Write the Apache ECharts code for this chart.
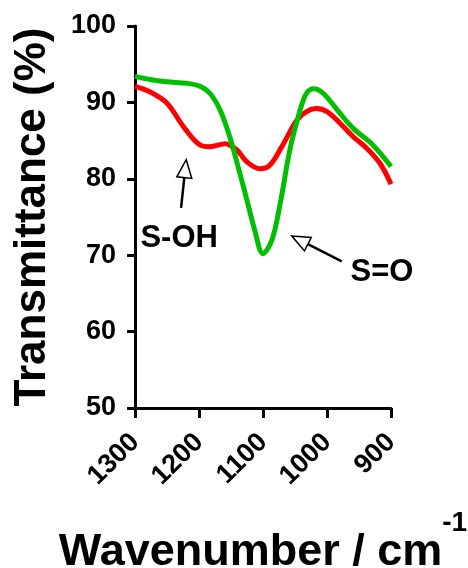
<!DOCTYPE html>
<html>
<head>
<meta charset="utf-8">
<script src="https://cdn.jsdelivr.net/npm/echarts@6/dist/echarts.min.js"></script>
<style>
  html, body { margin: 0; padding: 0; background: #fff; }
  #main { width: 468px; height: 568px; }
</style>
</head>
<body>
<div id="main"></div>
<script>
// 红线 (S-OH 样品)
const redX = [1300, 1277, 1250, 1224, 1198, 1183, 1159, 1141, 1125, 1105, 1089, 1068, 1047, 1032, 1017, 1000, 980, 959, 938, 917, 900];
const redY = [92.1, 91.4, 89.9, 86.8, 84.4, 84.2, 84.6, 83.8, 82.2, 81.3, 81.8, 84.6, 87.7, 88.8, 89.2, 88.8, 87.3, 85.5, 84.0, 82.0, 79.3];
// 绿线 (S=O 样品)
const greenX = [1300, 1277, 1250, 1219, 1198, 1183, 1167, 1152, 1139, 1126, 1113, 1100, 1086, 1073, 1058, 1042, 1032, 1021, 1006, 980, 959, 928, 900];
const greenY = [93.4, 93.0, 92.7, 92.5, 92.1, 91.2, 89.0, 85.5, 81.6, 77.5, 73.3, 70.2, 72.0, 76.8, 83.8, 89.0, 91.2, 91.8, 91.2, 88.6, 86.6, 84.4, 81.6];
const xTicks = [1300, 1200, 1100, 1000, 900];
const yTicks = [50, 60, 70, 80, 90, 100];

// 标注 (数据坐标)
const notes = [
    {text: 'S-OH', tip: [1220, 82.5], tail: [1228, 76.2], label: [1231, 70.1]},
    {text: 'S=O', tip: [1055, 72.5], tail: [977, 69.2], label: [914, 65.7]}
];

const font = 'Liberation Sans, Arial, sans-serif';
const chart = echarts.init(document.getElementById('main'));

function pairs(xs, ys) {
    return xs.map((x, i) => [x, ys[i]]);
}

const option = {
    animation: false,
    grid: {left: 135, right: 77, top: 26, bottom: 160, containLabel: false, outerBoundsMode: 'none'},
    xAxis: {
        type: 'value',
        inverse: true,
        min: 900,
        max: 1300,
        interval: 100,
        name: '{b|Wavenumber / cm}{s|-1}',
        nameLocation: 'middle',
        nameGap: 117,
        nameTextStyle: {
            rich: {
                b: {fontFamily: font, fontWeight: 'bold', fontSize: 45, color: '#000', lineHeight: 50, verticalAlign: 'bottom'},
                s: {fontFamily: font, fontWeight: 'bold', fontSize: 28, color: '#000', lineHeight: 28, verticalAlign: 'bottom', padding: [0, 0, 38, 0]}
            }
        },
        splitLine: {show: false},
        axisLine: {show: true, lineStyle: {color: '#000', width: 3}},
        axisTick: {show: true, length: 10, lineStyle: {color: '#000', width: 3}},
        axisLabel: {
            rotate: 45,
            margin: 30,
            fontFamily: font,
            fontWeight: 'bold',
            fontSize: 27,
            color: '#000',
            customValues: xTicks,
            formatter: v => String(v)
        }
    },
    yAxis: {
        type: 'value',
        min: 50,
        max: 100,
        interval: 10,
        name: 'Transmittance (%)',
        nameLocation: 'middle',
        nameGap: 80,
        nameTextStyle: {fontFamily: font, fontWeight: 'bold', fontSize: 44, color: '#000'},
        splitLine: {show: false},
        axisLine: {show: true, lineStyle: {color: '#000', width: 3}},
        axisTick: {show: true, length: 8, lineStyle: {color: '#000', width: 3}},
        axisLabel: {
            margin: 19,
            fontFamily: font,
            fontWeight: 'bold',
            fontSize: 27,
            color: '#000',
            customValues: yTicks
        }
    },
    series: [
        {
            name: 'red',
            type: 'line',
            smooth: 0.35,
            symbol: 'none',
            data: pairs(redX, redY),
            lineStyle: {color: '#ff0000', width: 5},
            z: 2
        },
        {
            name: 'green',
            type: 'line',
            smooth: 0.35,
            symbol: 'none',
            data: pairs(greenX, greenY),
            lineStyle: {color: '#00bf00', width: 5},
            z: 3
        }
    ]
};
chart.setOption(option);

// 箭头和文字标注
function arrowGraphics(n) {
    const tip = chart.convertToPixel({gridIndex: 0}, n.tip);
    const tail = chart.convertToPixel({gridIndex: 0}, n.tail);
    const lab = chart.convertToPixel({gridIndex: 0}, n.label);
    const dx = tip[0] - tail[0], dy = tip[1] - tail[1];
    const len = Math.sqrt(dx * dx + dy * dy);
    const ux = dx / len, uy = dy / len;
    const headLen = 18, headW = 7.5;
    const bx = tip[0] - ux * headLen, by = tip[1] - uy * headLen;
    const px = -uy, py = ux;
    return [
        {
            type: 'line',
            shape: {x1: tail[0], y1: tail[1], x2: bx, y2: by},
            style: {stroke: '#000', lineWidth: 2.5}
        },
        {
            type: 'polygon',
            shape: {points: [[tip[0], tip[1]], [bx + px * headW, by + py * headW], [bx - px * headW, by - py * headW]]},
            style: {fill: '#fff', stroke: '#000', lineWidth: 1.5}
        },
        {
            type: 'text',
            x: lab[0],
            y: lab[1],
            style: {
                text: n.text,
                font: 'bold 31px ' + font,
                fill: '#000',
                align: 'center',
                verticalAlign: 'bottom'
            }
        }
    ];
}

let g = [];
notes.forEach(n => { g = g.concat(arrowGraphics(n)); });
chart.setOption({graphic: g});
</script>
</body>
</html>
